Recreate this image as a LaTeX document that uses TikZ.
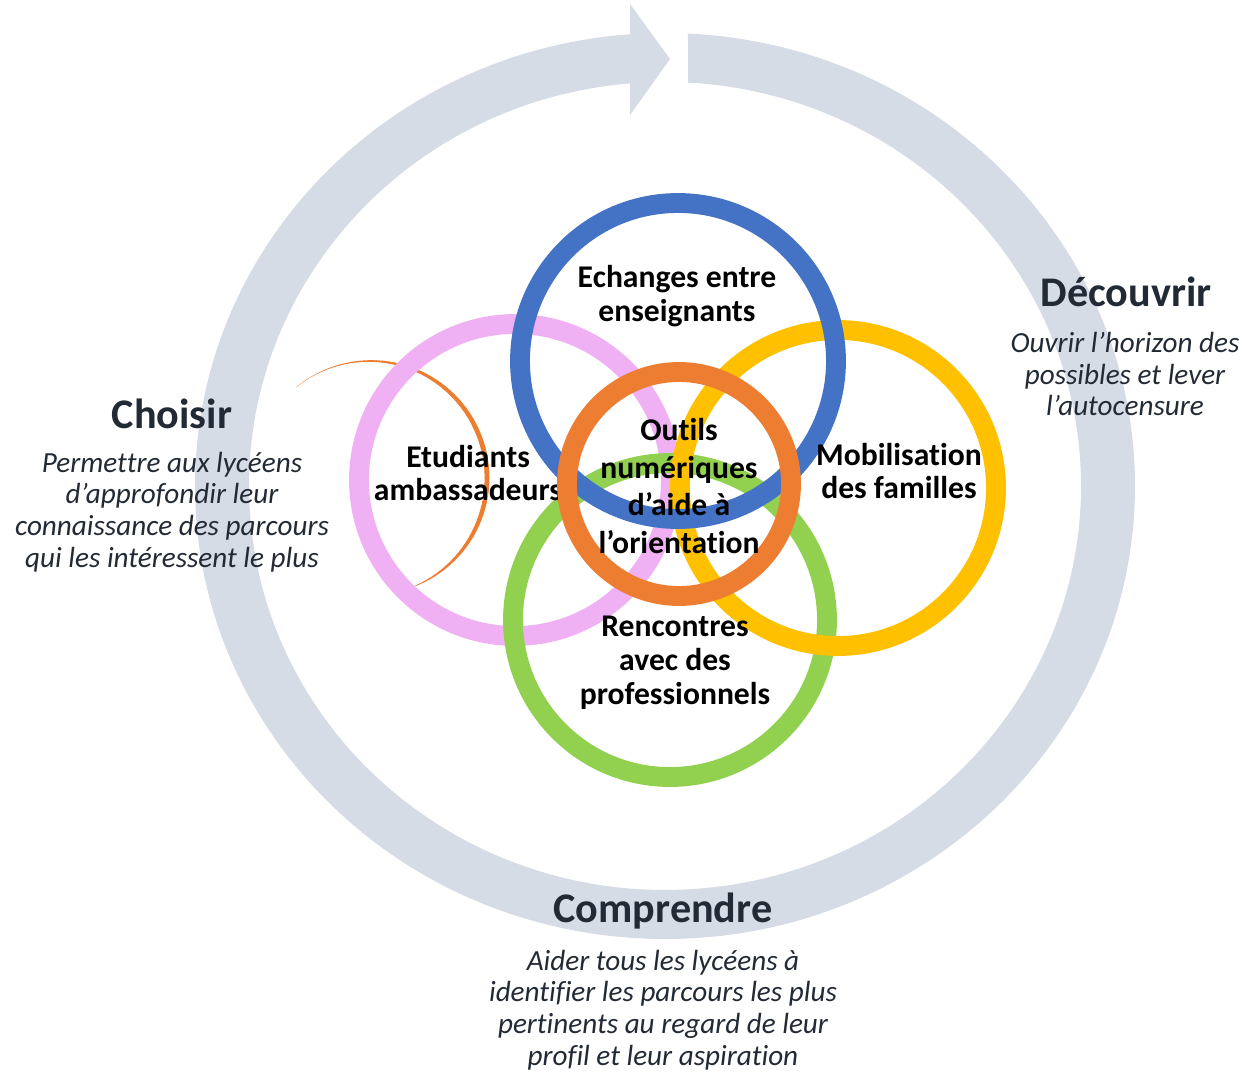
\documentclass[tikz,border=0pt]{standalone}
\usepackage{fontspec}
\setmainfont{Carlito}[Ligatures=NoCommon]
\usepackage{tikz}
\definecolor{ringgray}{RGB}{214,220,229}
\definecolor{navy}{RGB}{34,42,53}
\definecolor{cblue}{RGB}{68,114,196}
\definecolor{cpink}{RGB}{240,176,244}
\definecolor{cyellow}{RGB}{255,192,0}
\definecolor{cgreen}{RGB}{146,208,80}
\definecolor{corange}{RGB}{237,125,49}
\tikzset{
  ring/.style={line width=11.3pt},
  phase/.style={font=\fontsize{24}{28}\selectfont\bfseries, text=navy, inner sep=0pt},
  blurb/.style={font=\fontsize{16.6}{18.1}\selectfont\itshape, text=navy, align=center, inner sep=0pt},
  action/.style={font=\fontsize{18}{19.3}\selectfont\bfseries, align=center, inner sep=0pt}
}

\begin{document}
\begin{tikzpicture}[x=0.02cm, y=-0.02cm]
  \useasboundingbox (0,0) rectangle (1245,1072);

  % big circular arrow
  \fill[ringgray] (665,486) ++(-87.2:470 and 453)
    arc[start angle=-87.2, end angle=265.73, x radius=470, y radius=453]
    -- (630,4) -- (670,59) -- (630,115) -- (630,83.4)
    arc[start angle=265.17, end angle=-86.8, x radius=416, y radius=404]
    -- cycle;

  % thin orange arc
  \foreach \a in {231,234,...,426} {
    \pgfmathsetmacro\w{0.15+2.6*sin(180*((\a-231)/198)^1.4)}
    \draw[corange, line width=\w pt, line cap=round]
      (370,478) ++(\a:117) arc[start angle=\a, end angle=\a+3, radius=117];
  }

  \draw[ring, cpink] (515,480) circle[radius=156];
  \draw[ring, cgreen] (670,620) circle[radius=157];
  \draw[ring, cyellow] (838,488) circle[radius=158];
  \draw[ring, cblue] (678,361) circle[radius=158];

  \node[action] (echanges) at (677,296) {Echanges entre\\enseignants};
  \node[action] (etudiants) at (468,473) {Etudiants\\ambassadeurs};
  \node[action] (familles) at (899,471) {Mobilisation\\des familles};
  \node[action] (rencontres) at (675,663) {Rencontres\\avec des\\professionnels};

  \draw[ring, corange] (679,484) circle[radius=112];
  \node[action, font=\fontsize{18}{21.5}\selectfont\bfseries] (outils) at (679,486)
    {Outils\\numériques\\d’aide à\\l’orientation};

  % phases
  \node[phase] (choisir) at (172,414) {Choisir};
  \node[blurb] (choisirtxt) at (172,512)
    {Permettre aux lycéens\\d’approfondir leur\\connaissance des parcours\\qui les intéressent le plus};
  \node[phase] (decouvrir) at (1126,292) {Découvrir};
  \node[blurb] (decouvrirtxt) at (1125,374)
    {Ouvrir l’horizon des\\possibles et lever\\l’autocensure};
  \node[phase] (comprendre) at (663,911) {Comprendre};
  \node[blurb] (comprendretxt) at (663,1010)
    {Aider tous les lycéens à\\identifier les parcours les plus\\pertinents au regard de leur\\profil et leur aspiration};
\end{tikzpicture}
\end{document}
